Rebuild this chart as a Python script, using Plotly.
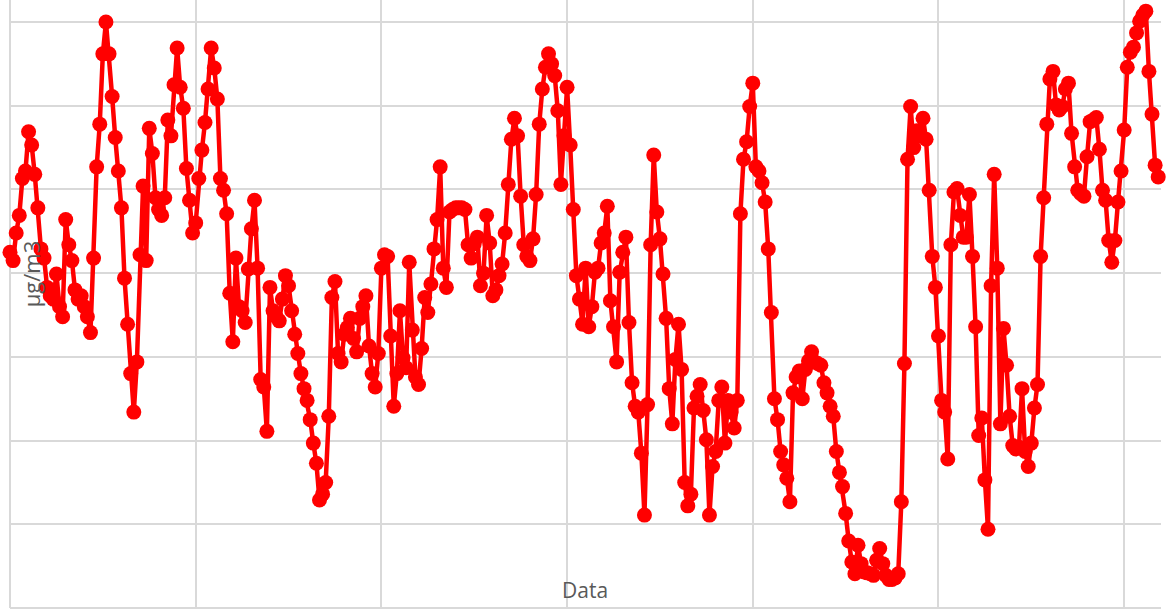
import plotly.graph_objects as go

# Concentration values (µg/m3), one per day
pm = [
    42.5, 41.5, 44.8, 46.9, 51.3, 52.2, 56.9, 55.3, 51.8, 47.8,
    42.9, 41.8, 38.3, 37.3, 36.9, 39.9, 36.0, 34.8, 46.4, 43.4,
    41.5, 38.0, 36.9, 37.3, 36.0, 34.8, 32.9, 41.8, 52.7, 57.8,
    66.2, 70.0, 66.2, 61.1, 56.2, 52.2, 47.8, 39.4, 33.9, 28.0,
    23.4, 29.4, 42.2, 50.4, 41.5, 57.3, 54.3, 49.0, 47.6, 46.9,
    49.0, 58.3, 56.4, 62.5, 66.9, 62.2, 59.7, 52.5, 48.7, 44.8,
    46.0, 51.3, 54.7, 58.0, 62.0, 66.9, 64.5, 60.8, 51.3, 49.9,
    47.1, 37.6, 31.8, 41.8, 36.0, 35.5, 34.1, 40.5, 45.3, 48.7,
    40.6, 27.3, 26.4, 21.1, 38.3, 35.5, 34.8, 34.3, 36.9, 39.7,
    38.5, 35.5, 32.7, 30.4, 28.0, 26.2, 24.8, 22.5, 19.7, 17.3,
    12.9, 13.6, 15.0, 22.9, 37.1, 39.0, 30.4, 29.4, 32.7, 33.5,
    34.6, 32.2, 30.6, 34.6, 36.0, 37.3, 31.3, 28.0, 26.4, 30.4,
    40.6, 42.2, 42.0, 32.5, 24.1, 28.0, 35.5, 29.9, 28.7, 41.3,
    33.2, 27.6, 26.7, 31.0, 37.1, 35.3, 38.7, 42.9, 46.4, 52.7,
    40.6, 38.3, 47.3, 47.6, 47.8, 47.8, 47.8, 47.6, 43.4, 41.8,
    43.5, 44.3, 38.5, 40.0, 46.9, 43.6, 37.3, 38.0, 39.7, 41.1,
    44.8, 50.6, 56.0, 58.5, 56.4, 49.2, 43.4, 42.0, 41.5, 44.1,
    49.4, 57.8, 62.0, 64.6, 66.2, 65.0, 63.6, 59.4, 50.6, 56.4,
    62.2, 55.3, 47.6, 39.7, 36.9, 33.9, 40.6, 33.6, 36.0, 40.1,
    40.6, 43.6, 44.8, 48.0, 36.7, 33.6, 29.4, 40.1, 42.5, 44.3,
    34.1, 26.9, 24.1, 23.4, 18.5, 11.1, 24.3, 43.4, 54.1, 47.3,
    44.1, 39.9, 34.6, 26.2, 22.0, 29.7, 33.9, 28.5, 15.0, 12.2,
    13.6, 23.9, 25.3, 26.7, 23.6, 20.1, 11.1, 16.9, 18.7, 24.8,
    26.4, 19.7, 24.8, 23.4, 21.5, 24.8, 47.1, 53.6, 55.7, 59.9,
    62.7, 52.7, 52.2, 50.8, 48.5, 42.9, 35.3, 25.0, 22.5, 18.7,
    17.1, 15.5, 12.7, 25.7, 27.6, 28.3, 25.0, 28.5, 29.5, 30.6,
    29.4, 29.2, 29.0, 26.9, 25.7, 24.1, 22.9, 18.7, 16.2, 14.5,
    11.3, 8.0, 5.5, 4.1, 7.5, 5.3, 4.3, 4.2, 4.1, 3.9,
    5.7, 7.1, 5.3, 3.9, 3.4, 3.4, 3.6, 4.1, 12.7, 29.2,
    53.6, 59.9, 55.0, 57.0, 56.4, 58.5, 56.0, 49.9, 42.0, 38.3,
    32.5, 24.8, 23.4, 17.8, 43.4, 49.7, 50.1, 46.9, 44.3, 44.3,
    49.4, 42.0, 33.6, 20.6, 22.7, 15.3, 9.4, 38.5, 51.8, 40.6,
    22.0, 33.4, 29.0, 22.9, 19.4, 19.0, 19.2, 26.2, 18.7, 16.9,
    19.7, 23.9, 26.7, 42.0, 49.0, 57.8, 63.2, 64.1, 60.1, 59.5,
    59.9, 62.0, 62.7, 56.7, 52.7, 49.9, 49.5, 49.2, 53.9, 58.1,
    58.3, 58.6, 54.8, 49.9, 48.7, 43.9, 41.3, 43.9, 48.5, 52.2,
    57.1, 64.6, 66.4, 67.0, 68.7, 70.1, 70.8, 71.3, 64.1, 59.0,
    52.9, 51.5, 50.8,
]
day = list(range(len(pm)))

x_title = "Data"
y_title = "µg/m3"

fig = go.Figure()
fig.add_trace(go.Scatter(
    x=day, y=pm, mode="lines+markers",
    line=dict(color="#FF0000", width=4.5),
    marker=dict(color="#FF0000", size=15, symbol="circle"),
    cliponaxis=False, showlegend=False,
))

grid = "#d9d9d9"
fig.update_layout(
    width=1168, height=610,
    margin=dict(l=10, r=7, t=0, b=2),
    paper_bgcolor="white", plot_bgcolor="white",
    xaxis=dict(range=[0, 371.9], tick0=0, dtick=60, showgrid=True,
               gridcolor=grid, gridwidth=2, showticklabels=False,
               zeroline=True, zerolinecolor=grid, zerolinewidth=2,
               ticks="", showline=False, fixedrange=True),
    yaxis=dict(range=[0, 72.63], tick0=0, dtick=10, showgrid=True,
               gridcolor=grid, gridwidth=2, showticklabels=False,
               zeroline=True, zerolinecolor=grid, zerolinewidth=2,
               ticks="", showline=False, fixedrange=True),
    font=dict(family="Open Sans, Noto Sans, sans-serif", color="#595959"),
    annotations=[
        dict(text=x_title, xref="paper", yref="paper", x=0.4996, y=0.03,
             showarrow=False, font=dict(size=21, color="#595959"),
             xanchor="center", yanchor="middle"),
        dict(text=y_title, xref="paper", yref="paper", x=0.018, y=0.55,
             showarrow=False, textangle=-90,
             font=dict(size=22, color="#595959"),
             xanchor="center", yanchor="middle"),
    ],
)

fig.write_html("out.html", config={"displayModeBar": False},
               post_script="document.body.style.margin='0';document.body.style.overflow='hidden';")
